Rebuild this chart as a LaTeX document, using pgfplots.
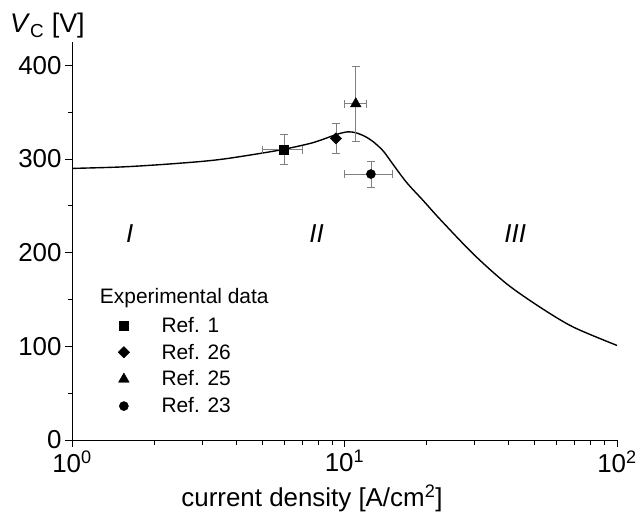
\documentclass[border=0pt]{standalone}
\usepackage{fontspec}
\setmainfont{Liberation Sans}
\usepackage{pgfplots}
\pgfplotsset{compat=1.18}
\newcommand{\lf}{\fontsize{21}{25}\selectfont}
\begin{document}
\begin{tikzpicture}
\useasboundingbox (-72bp,-78bp) rectangle (564bp,440bp);
\begin{axis}[
  at={(0,0)}, anchor=south west,
  scale only axis, width=545bp, height=398bp,
  xmode=log, xmin=1, xmax=100, ymin=0, ymax=425,
  axis x line*=bottom, axis y line*=left,
  axis line style={line width=1pt, -},
  tick align=outside,
  major tick length=7bp, minor tick length=4.5bp,
  every tick/.style={black, line width=1pt},
  xtick={1,10,100},
  minor xtick={2,3,4,5,6,7,8,9,20,30,40,50,60,70,80,90},
  xticklabels={10\textsuperscript{0},10\textsuperscript{1},10\textsuperscript{2}},
  ytick={0,100,200,300,400},
  minor ytick={50,150,250,350},
  tick label style={font=\fontsize{26}{30}\selectfont},
  /pgf/number format/assume math mode=true,
  legend style={at={(rel axis cs:0.079,0.3195)}, anchor=north west, draw=none, fill=none,
    font=\lf, row sep=6.3bp,
    /tikz/every odd column/.append style={column sep=30bp}},
  legend cell align=left,
  clip=false,
  error bars/error bar style={gray, line width=0.8pt},
  error bars/error mark=|,
  error bars/error mark options={gray, mark size=4bp, line width=0.8pt},
]
\addplot[black, line width=1.4pt, smooth, tension=0.5, forget plot] coordinates {
(1,290) (1.5,291.5) (2.1,294) (3,297.5) (3.7,300.5) (4.9,306) (6,310.5) (7.66,317.5)
(9.4,326.5) (10.33,329.1) (11.08,327.8) (11.9,324.1) (12.75,318.5) (13.88,308.5)
(15.1,294) (16.9,275) (19.5,255.3) (22.4,235.8)
(29.7,198.6) (39.4,166.7) (52.2,141.8) (69.1,120.6) (100,101)
};
\addplot[only marks, mark=square*, mark size=4.5pt, black,
  error bars/.cd, x dir=both, x explicit, y dir=both, y explicit]
  coordinates {(6,310) +- (1,16)};
\addlegendentry{Ref. 1}
\addplot[only marks, mark=square*, mark options={rotate=45}, mark size=4pt, black,
  error bars/.cd, y dir=both, y explicit]
  coordinates {(9.3,322) +- (0,16)};
\addlegendentry{Ref. 26}
\addplot[only marks, mark=triangle*, mark size=6.2pt, black,
  error bars/.cd, x dir=both, x explicit, y dir=both, y explicit]
  coordinates {(11,359) +- (1.05,40)};
\addlegendentry{Ref. 25}
\addplot[only marks, mark=*, mark size=4.6pt, black,
  error bars/.cd, x dir=both, x explicit, y dir=both, y explicit]
  coordinates {(12.5,284) +- (2.5,14)};
\addlegendentry{Ref. 23}
\node[font=\fontsize{26}{30}\selectfont\itshape] at (axis cs:1.63,220) {I};
\node[font=\fontsize{26}{30}\selectfont\itshape] at (axis cs:7.9,220) {II};
\node[font=\fontsize{26}{30}\selectfont\itshape] at (axis cs:42.3,220) {III};
\node[anchor=west, font=\lf, inner sep=0pt] at (rel axis cs:0.051,0.357) {Experimental data};
\end{axis}
\node[anchor=base west, font=\fontsize{27}{30}\selectfont, inner sep=0pt] at (-62bp,407bp) {\textit{V}\textsubscript{C} [V]};
\node[anchor=base, font=\fontsize{26}{30}\selectfont, inner sep=0pt] at (240bp,-66bp) {current density [A/cm\textsuperscript{2}]};
\end{tikzpicture}
\end{document}
